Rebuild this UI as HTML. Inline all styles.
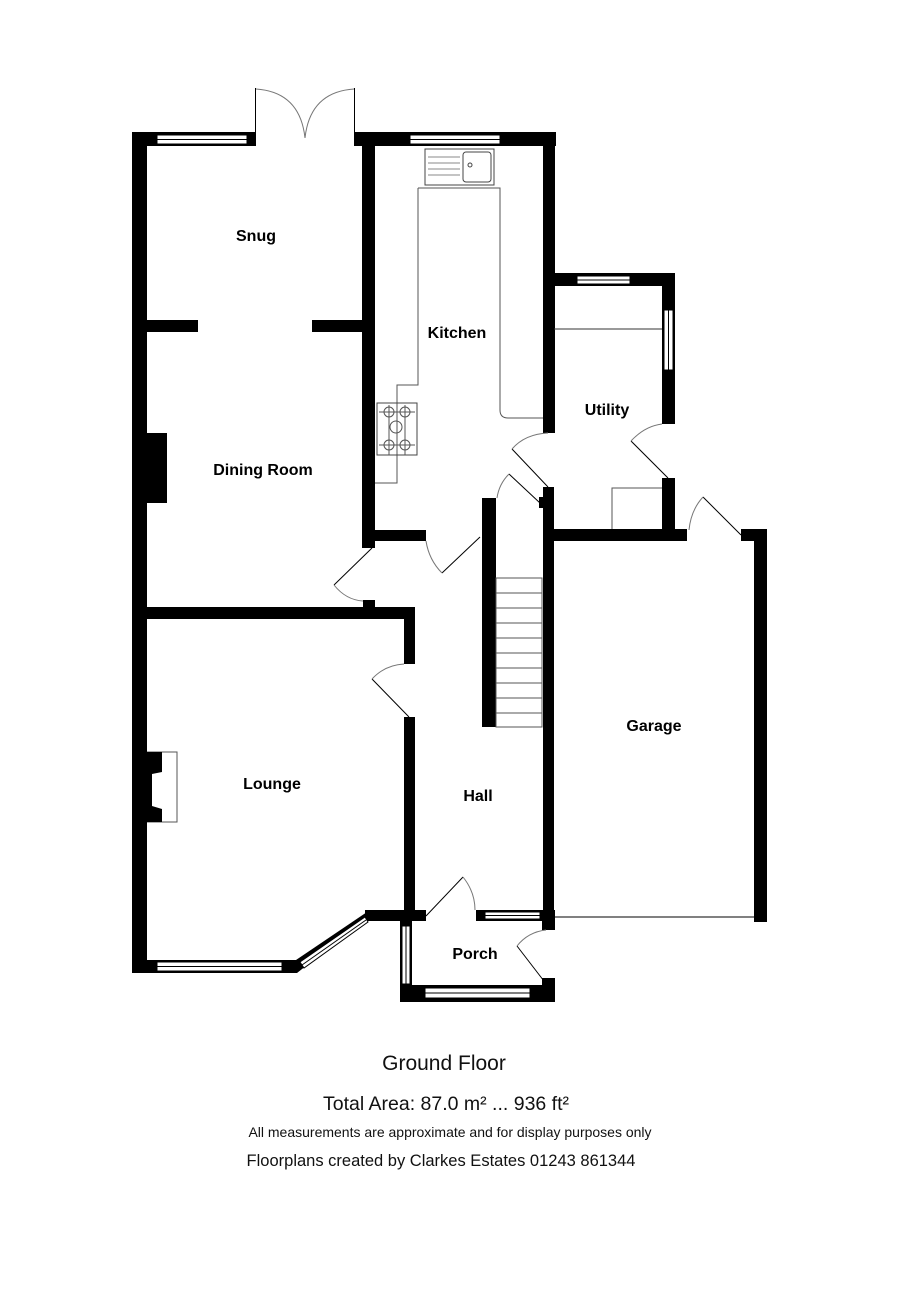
<!DOCTYPE html>
<html><head><meta charset="utf-8"><style>
html,body{margin:0;padding:0;background:#fff;}
svg{display:block;}
text{font-family:"Liberation Sans",Arial,sans-serif;}
.l{font-weight:bold;font-size:16px;text-anchor:middle;}
.f{text-anchor:middle;fill:#111;}
</style></head><body>
<svg width="900" height="1305" viewBox="0 0 900 1305" xmlns="http://www.w3.org/2000/svg">
<rect x="147" y="752" width="30" height="70" fill="#fff" stroke="#555" stroke-width="1"/>
<g fill="#000">
<rect x="132" y="132" width="15" height="841"/>
<rect x="132" y="132" width="124" height="14"/>
<rect x="354" y="132" width="202" height="14"/>
<rect x="362" y="132" width="13" height="416"/>
<rect x="543" y="132" width="12" height="301"/>
<rect x="554" y="273" width="121" height="13"/>
<rect x="662" y="273" width="13" height="151"/>
<rect x="662" y="478" width="13" height="63"/>
<rect x="554" y="529" width="133" height="12"/>
<rect x="741" y="529" width="26" height="12"/>
<rect x="754" y="529" width="13" height="393"/>
<rect x="543" y="487" width="11" height="428"/>
<rect x="539" y="497" width="6" height="11"/>
<rect x="375" y="530" width="51" height="11"/>
<rect x="482" y="498" width="14" height="229"/>
<rect x="147" y="320" width="51" height="12"/>
<rect x="312" y="320" width="50" height="12"/>
<rect x="147" y="433" width="20" height="70"/>
<rect x="147" y="607" width="268" height="12"/>
<rect x="363" y="600" width="12" height="8"/>
<rect x="404" y="607" width="11" height="57"/>
<rect x="404" y="717" width="11" height="204"/>
<path d="M147 752 H162 V772 L152 774 V806 L162 809 V822 H147Z"/>
<rect x="132" y="960" width="158" height="13"/>
<polygon points="282,960 296,960 370,910 370,921 363,921 297,973 282,973"/>
<rect x="365" y="910" width="50" height="11"/>
<rect x="400" y="910" width="26" height="11"/>
<rect x="400" y="921" width="12" height="81"/>
<rect x="400" y="985" width="155" height="17"/>
<rect x="542" y="978" width="13" height="24"/>
<rect x="476" y="910" width="79" height="11"/>
<rect x="542" y="910" width="13" height="20"/>
</g>
<g fill="#fff" stroke="#000" stroke-width="1">
<rect x="157" y="135" width="90" height="9"/>
<rect x="410" y="135" width="90" height="9"/>
<rect x="577" y="276" width="53" height="8"/>
<rect x="664" y="310" width="9" height="60"/>
<rect x="157" y="962" width="125" height="9"/>
<rect x="485" y="912" width="55" height="7"/>
<rect x="402" y="926" width="8" height="58"/>
<rect x="425" y="988" width="105" height="10"/>
<polygon points="300,962 365,917 368,922 304,968"/>
</g>
<g stroke="#000" stroke-width="1" fill="none">
<line x1="157" y1="139.5" x2="247" y2="139.5"/>
<line x1="410" y1="139.5" x2="500" y2="139.5"/>
<line x1="577" y1="280" x2="630" y2="280"/>
<line x1="668.5" y1="310" x2="668.5" y2="370"/>
<line x1="157" y1="966.5" x2="282" y2="966.5"/>
<line x1="485" y1="915.5" x2="540" y2="915.5"/>
<line x1="406" y1="926" x2="406" y2="984"/>
<line x1="425" y1="993" x2="530" y2="993"/>
<line x1="302" y1="965" x2="366" y2="920"/>
<line x1="255.5" y1="88" x2="255.5" y2="132"/>
<line x1="354.5" y1="88" x2="354.5" y2="132"/>
<path d="M256 89 Q300 92 305 138" stroke="#777"/>
<path d="M354 89 Q310 92 305 138" stroke="#777"/>
<rect x="425" y="149" width="69" height="36" stroke="#444"/>
<rect x="463" y="152" width="28" height="30" rx="3" stroke="#444"/>
<circle cx="470" cy="165" r="2" stroke="#444"/>
<path d="M428 157H460M428 163H460M428 169H460M428 175H460" stroke="#888"/>
<path d="M418 188 H500 V410 Q500 418 508 418 H543" stroke="#555"/>
<path d="M418 188 V385 H397 V483 H375" stroke="#555"/>
<rect x="377" y="403" width="40" height="52" stroke="#444"/>
<g stroke="#555"><circle cx="389" cy="412" r="5"/><circle cx="405" cy="412" r="5"/><circle cx="396" cy="427" r="6"/><circle cx="389" cy="445" r="5"/><circle cx="405" cy="445" r="5"/>
<path d="M379 412H415M379 445H415M389 405V455M405 405V455"/></g>
<line x1="554" y1="329" x2="662" y2="329" stroke="#333"/>
<path d="M612 529 V488 H662" stroke="#555"/>
<rect x="496" y="578" width="46" height="149" stroke="#555"/>
<path d="M496 593H542M496 608H542M496 623H542M496 638H542M496 653H542M496 668H542M496 683H542M496 698H542M496 713H542" stroke="#555"/>
<line x1="555" y1="917" x2="754" y2="917"/>
<line x1="512" y1="449" x2="548" y2="487"/>
<path d="M512 449 Q525 434 548 433" stroke="#777"/>
<line x1="509" y1="474" x2="540" y2="503"/>
<path d="M509 474 Q499 484 497 498" stroke="#777"/>
<line x1="631" y1="441" x2="668" y2="478"/>
<path d="M631 441 Q645 426 662 424" stroke="#777"/>
<line x1="703" y1="497" x2="741" y2="535"/>
<path d="M703 497 Q691 510 689 530" stroke="#777"/>
<line x1="480" y1="537" x2="442" y2="573"/>
<path d="M442 573 Q429 560 426 541" stroke="#777"/>
<line x1="372" y1="548" x2="334" y2="585"/>
<path d="M334 585 Q346 600 363 601" stroke="#777"/>
<line x1="409" y1="717" x2="372" y2="679"/>
<path d="M372 679 Q385 665 404 664" stroke="#777"/>
<line x1="426" y1="916" x2="463" y2="877"/>
<path d="M463 877 Q475 892 475 910" stroke="#777"/>
<line x1="547" y1="985" x2="517" y2="946"/>
<path d="M517 946 Q528 932 546 930" stroke="#777"/>
</g>
<text class="l" x="256" y="241">Snug</text>
<text class="l" x="457" y="338">Kitchen</text>
<text class="l" x="607" y="415">Utility</text>
<text class="l" x="263" y="475">Dining Room</text>
<text class="l" x="272" y="789">Lounge</text>
<text class="l" x="478" y="801">Hall</text>
<text class="l" x="654" y="731">Garage</text>
<text class="l" x="475" y="959">Porch</text>
<text class="f" x="444" y="1070" font-size="21">Ground Floor</text>
<text class="f" x="446" y="1110" font-size="19.5">Total Area: 87.0 m² ... 936 ft²</text>
<text class="f" x="450" y="1137" font-size="14">All measurements are approximate and for display purposes only</text>
<text class="f" x="441" y="1166" font-size="16.5">Floorplans created by Clarkes Estates 01243 861344</text>
</svg>
</body></html>
